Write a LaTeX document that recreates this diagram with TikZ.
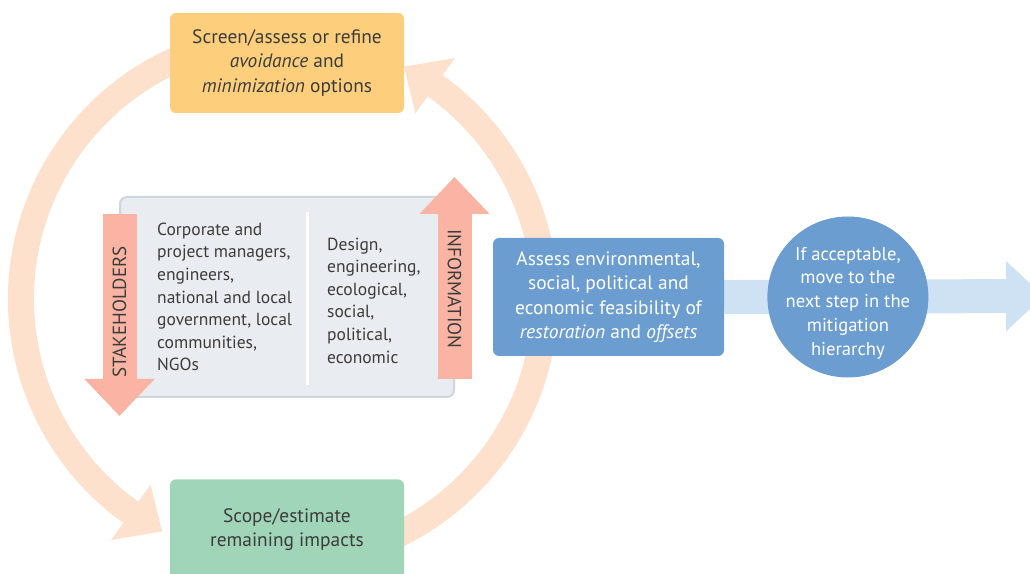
\documentclass[tikz,border=0pt]{standalone}
\usepackage{fontspec}
\setmainfont{PT Sans}
\usetikzlibrary{arrows.meta, positioning, calc, backgrounds}
\definecolor{optionYellow}{RGB}{253,207,124}
\definecolor{impactGreen}{RGB}{160,213,185}
\definecolor{assessBlue}{RGB}{107,157,208}
\definecolor{flowBlue}{RGB}{207,226,244}
\definecolor{panelGray}{RGB}{233,236,241}
\definecolor{panelEdge}{RGB}{205,213,222}
\definecolor{ringPeach}{RGB}{253,225,205}
\definecolor{arrowSalmon}{RGB}{251,180,163}
\definecolor{textGray}{RGB}{60,60,59}

\begin{document}
\begin{tikzpicture}[
    x=1pt, y=1pt,
    every node/.style={font=\fontsize{19.4}{24.5}\selectfont, text=textGray},
    stepbox/.style={rectangle, rounded corners=6pt, minimum width=234pt, minimum height=100pt, align=center, inner sep=0pt},
    panel/.style={rectangle, draw=panelEdge, line width=2pt, fill=panelGray, rounded corners=7pt, minimum width=334pt, minimum height=200pt},
    listtext/.style={align=left, inner sep=0pt, anchor=west, font=\fontsize{17.5}{22.6}\selectfont},
    ring/.style={line width=26pt, ringPeach},
    band/.style={line width=34pt, arrowSalmon, -{Triangle[width=68pt, length=37pt]}},
    bandlabel/.style={font=\fontsize{19}{20}\selectfont, inner sep=0pt},
    flow/.style={line width=34pt, flowBlue, -{Triangle[width=68pt, length=38pt]}}
]
\useasboundingbox (0,0) rectangle (1030,573);
\clip (0,0) rectangle (1030,573);

% the loop
\node[stepbox, fill=optionYellow] (screen) at (287,510) {Screen/assess or refine\\\textit{avoidance} and\\\textit{minimization} options};
\node[stepbox, fill=impactGreen, below=366pt of screen] (scope) {Scope/estimate\\remaining impacts};

% stakeholders and information
\node[panel] (panel) at (287,276) {};
\draw[white, line width=2.5pt] (307.5,361) -- (307.5,188);
\node[listtext] (who) at (157,276) {Corporate and\\project managers,\\engineers,\\national and local\\government, local\\communities,\\NGOs};
\node[listtext] (what) at (327,272.5) {Design,\\engineering,\\ecological,\\social,\\political,\\economic};

\coordinate (stakeTop) at (119.5,359);
\coordinate (stakeTip) at (119.5,157);
\coordinate (infoBase) at (454.5,194);
\coordinate (infoTip) at (454.5,396);
\draw[band] (stakeTop) -- (stakeTip);
\draw[band] (infoBase) -- (infoTip);
\node[bandlabel, rotate=90] (stakelbl) at (119.5,261) {STAKEHOLDERS};
\node[bandlabel, rotate=-90] (infolbl) at (454.5,284) {INFORMATION};

% feasibility and next step
\node[stepbox, fill=assessBlue, text=white, minimum width=231pt, minimum height=118pt] (assess) at (608.5,276) {Assess environmental,\\social, political and\\economic feasibility of\\\textit{restoration} and \textit{offsets}};
\node[circle, fill=assessBlue, minimum size=161pt, inner sep=0pt, right=43pt of assess] (hier) {};
\node[align=center, text=white, inner sep=0pt, font=\fontsize{18.6}{23.8}\selectfont] (hiertext) at ([yshift=-6pt]hier.center) {If acceptable,\\move to the\\next step in the\\mitigation\\hierarchy};

\begin{scope}[on background layer]
  \clip (0,0) rectangle (1030,573);
  \coordinate (hub) at (283,274);
  \draw[ring] (hub) ++(-80:262pt) arc[start angle=-80, end angle=55, radius=262pt];
  \fill[ringPeach] ($(hub)+(54.5:296pt)$) -- ($(hub)+(62.5:262pt)$) -- ($(hub)+(54.5:228pt)$) -- cycle;
  \draw[ring] (hub) ++(100:262pt) arc[start angle=100, end angle=235, radius=262pt];
  \fill[ringPeach] ($(hub)+(234.5:296pt)$) -- ($(hub)+(242.5:262pt)$) -- ($(hub)+(234.5:228pt)$) -- cycle;
  \coordinate (offpage) at (1044,277);
  \draw[flow] (assess.east) -- (offpage);
\end{scope}
\end{tikzpicture}
\end{document}
